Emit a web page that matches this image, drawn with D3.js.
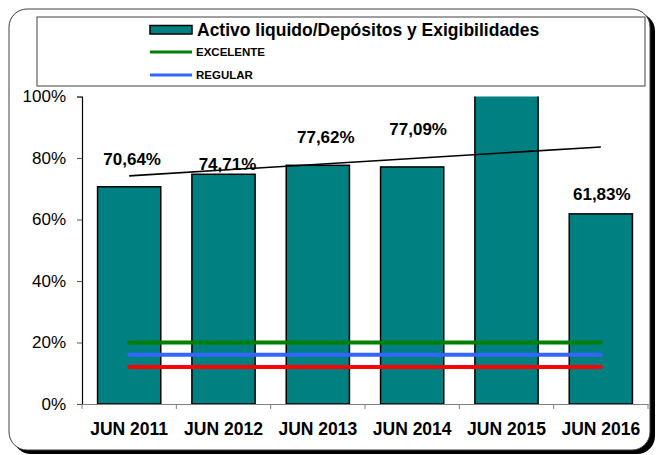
<!DOCTYPE html>
<html>
<head>
<meta charset="utf-8">
<script src="https://cdn.jsdelivr.net/npm/d3@7"></script>
<style>
  body { margin: 0; background: #fff; }
  svg { display: block; font-family: "Liberation Sans", Arial, sans-serif; }
</style>
</head>
<body>
<svg id="chart"></svg>
<script>
var width = 657;
var height = 455;

// data
var periods = ['JUN 2011', 'JUN 2012', 'JUN 2013', 'JUN 2014', 'JUN 2015', 'JUN 2016'];
var ratio = [70.64, 74.71, 77.62, 77.09, 111.5, 61.83];
var excelente = 20;
var regular = 16;
var deficiente = 12;
var yTicks = [0, 20, 40, 60, 80, 100];

// hand placed data labels (pixel nudges, like the original)
var labelDx = [3, 4, 8, 6, 0, 1];
var labelLift = [22, 4, 22, 32, 10, 14];

var plot = {left: 82, right: 648, top: 96.5, bottom: 404};

var svg = d3.select('#chart')
    .attr('width', width)
    .attr('height', height);

// outer frame with shadow
svg.append('rect')
    .attr('x', 13).attr('y', 13)
    .attr('width', 642).attr('height', 441)
    .attr('rx', 18)
    .attr('fill', '#000');
svg.append('rect')
    .attr('x', 9).attr('y', 9)
    .attr('width', 641).attr('height', 441)
    .attr('rx', 18)
    .attr('fill', '#fff')
    .attr('stroke', '#404040')
    .attr('stroke-width', 1);

var xScale = d3.scaleBand()
    .domain(periods)
    .range([plot.left, plot.right])
    .paddingInner(0.33)
    .paddingOuter(0.165);

var yScale = d3.scaleLinear()
    .domain([0, 100])
    .range([plot.bottom, plot.top]);

svg.append('defs').append('clipPath')
    .attr('id', 'plotclip')
  .append('rect')
    .attr('x', plot.left).attr('y', plot.top)
    .attr('width', plot.right - plot.left)
    .attr('height', plot.bottom - plot.top);

// y axis
var yAxis = d3.axisLeft(yScale)
    .tickValues(yTicks)
    .tickSize(5)
    .tickPadding(11)
    .tickFormat(d => d + '%');

var gy = svg.append('g')
    .attr('transform', 'translate(' + plot.left + ',0)')
    .call(yAxis);
gy.select('.domain').attr('stroke', '#000').attr('stroke-width', 1.2);
gy.selectAll('.tick line').attr('stroke', '#555');
gy.selectAll('.tick text')
    .attr('fill', '#000')
    .style('font-size', '17px')
    .style('font-family', '"Liberation Sans", Arial, sans-serif');

// x axis: ticks at category boundaries
var xAxis = d3.axisBottom(xScale).tickSize(0).tickPadding(19);
var gx = svg.append('g')
    .attr('transform', 'translate(0,' + plot.bottom + ')')
    .call(xAxis);
gx.select('.domain').attr('stroke', '#808080').attr('stroke-width', 1.2);
gx.selectAll('.tick text')
    .attr('fill', '#000')
    .style('font-size', '17.5px')
    .style('font-weight', 'bold')
    .style('font-family', '"Liberation Sans", Arial, sans-serif');

var step = xScale.step();
gx.selectAll('line.cat')
    .data(d3.range(periods.length + 1))
    .enter()
  .append('line')
    .attr('class', 'cat')
    .attr('x1', i => plot.left + i * step)
    .attr('x2', i => plot.left + i * step)
    .attr('y1', 0)
    .attr('y2', 5)
    .attr('stroke', '#808080');

var body = svg.append('g').attr('clip-path', 'url(#plotclip)');

// bars
body.selectAll('rect.bar')
    .data(ratio)
    .enter()
  .append('rect')
    .attr('class', 'bar')
    .attr('x', (d, i) => xScale(periods[i]))
    .attr('y', d => yScale(d))
    .attr('width', xScale.bandwidth())
    .attr('height', d => yScale(0) - yScale(d))
    .attr('fill', '#008080')
    .attr('stroke', '#000')
    .attr('stroke-width', 1.5);

// linear trend line
var xs = d3.range(ratio.length);
var mx = d3.mean(xs);
var my = d3.mean(ratio);
var slope = d3.sum(xs, i => (i - mx) * (ratio[i] - my)) / d3.sum(xs, i => (i - mx) * (i - mx));
var intercept = my - slope * mx;
var cx = i => xScale(periods[i]) + xScale.bandwidth() / 2;
var last = ratio.length - 1;

body.append('line')
    .attr('x1', cx(0))
    .attr('y1', yScale(intercept))
    .attr('x2', cx(last))
    .attr('y2', yScale(intercept + slope * last))
    .attr('stroke', '#000')
    .attr('stroke-width', 1.6);

// reference levels
var levels = [
  {v: deficiente, c: '#ff0000'},
  {v: regular, c: '#3366ff'},
  {v: excelente, c: '#008000'}
];
body.selectAll('line.level')
    .data(levels)
    .enter()
  .append('line')
    .attr('class', 'level')
    .attr('x1', cx(0))
    .attr('x2', cx(last))
    .attr('y1', d => yScale(d.v))
    .attr('y2', d => yScale(d.v))
    .attr('stroke', d => d.c)
    .attr('stroke-width', 4)
    .attr('stroke-linecap', 'round');

// data labels (values past the axis maximum fall off the plot, so none is drawn)
var shown = xs.filter(i => ratio[i] <= yScale.domain()[1]);
body.selectAll('text.val')
    .data(shown)
    .enter()
  .append('text')
    .attr('class', 'val')
    .attr('x', i => cx(i) + labelDx[i])
    .attr('y', i => yScale(ratio[i]) - labelLift[i])
    .attr('text-anchor', 'middle')
    .style('font-size', '17px')
    .style('font-weight', 'bold')
    .text(i => ratio[i].toFixed(2).replace('.', ',') + '%');

// legend
var lg = svg.append('g');
lg.append('rect')
    .attr('x', 37).attr('y', 17)
    .attr('width', 608).attr('height', 69)
    .attr('fill', '#fff')
    .attr('stroke', '#404040')
    .attr('stroke-width', 1);

lg.append('rect')
    .attr('x', 150).attr('y', 25.5)
    .attr('width', 42).attr('height', 8.5)
    .attr('fill', '#008080')
    .attr('stroke', '#000')
    .attr('stroke-width', 1.5);
lg.append('text')
    .attr('x', 197).attr('y', 35.5)
    .style('font-size', '17.5px')
    .style('font-weight', 'bold')
    .text('Activo liquido/Depósitos y Exigibilidades');

var legendLines = [
  {label: 'EXCELENTE', c: '#008000', y: 52},
  {label: 'REGULAR', c: '#3366ff', y: 75}
];
lg.selectAll('line.key')
    .data(legendLines)
    .enter()
  .append('line')
    .attr('class', 'key')
    .attr('x1', 150).attr('x2', 192)
    .attr('y1', d => d.y).attr('y2', d => d.y)
    .attr('stroke', d => d.c)
    .attr('stroke-width', 3);
lg.selectAll('text.key')
    .data(legendLines)
    .enter()
  .append('text')
    .attr('class', 'key')
    .attr('x', 196)
    .attr('y', d => d.y + 4)
    .style('font-size', '11.5px')
    .style('font-weight', 'bold')
    .text(d => d.label);
</script>
</body>
</html>
